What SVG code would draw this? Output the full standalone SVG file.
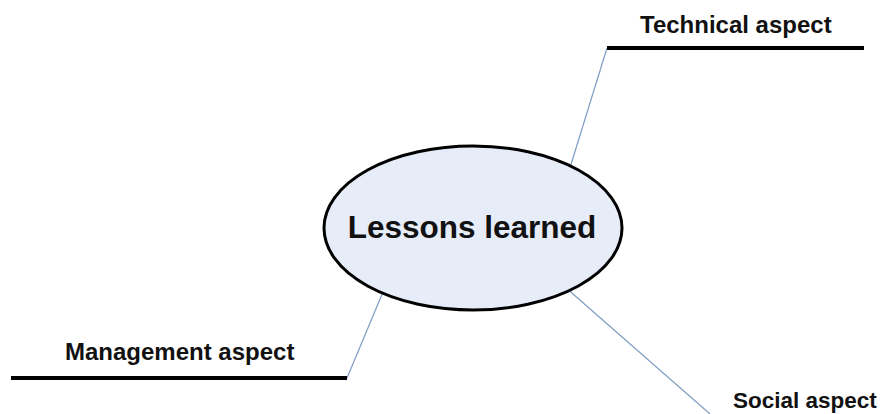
<svg xmlns="http://www.w3.org/2000/svg" width="885" height="414" viewBox="0 0 885 414">
<style>
.conn{stroke:#7f9cc4;stroke-width:1.2;fill:none}
.bar{stroke:#000;stroke-width:4}
.lbl{font-family:"Liberation Sans",Arial,sans-serif;font-weight:bold;font-size:24px;fill:#111}
</style>
<rect width="885" height="414" fill="#fff"/>
<g id="connectors">
<line class="conn" x1="570.5" y1="166" x2="607" y2="48"/>
<line class="conn" x1="383" y1="292" x2="347" y2="378"/>
<line class="conn" x1="569" y1="290.5" x2="710" y2="414"/>
</g>
<g id="center">
<ellipse cx="473" cy="228" rx="149" ry="82" fill="#e6ecf8" stroke="#000" stroke-width="3"/>
<text x="472" y="238" text-anchor="middle" class="lbl" style="font-size:31.5px">Lessons learned</text>
</g>
<g id="technical">
<line class="bar" x1="607" y1="48" x2="864" y2="48"/>
<text x="640" y="33" class="lbl">Technical aspect</text>
</g>
<g id="management">
<line class="bar" x1="11" y1="378" x2="347" y2="378"/>
<text x="65" y="360" class="lbl">Management aspect</text>
</g>
<g id="social">
<text x="733" y="408" class="lbl" style="font-size:22.5px">Social aspect</text>
</g>
</svg>
